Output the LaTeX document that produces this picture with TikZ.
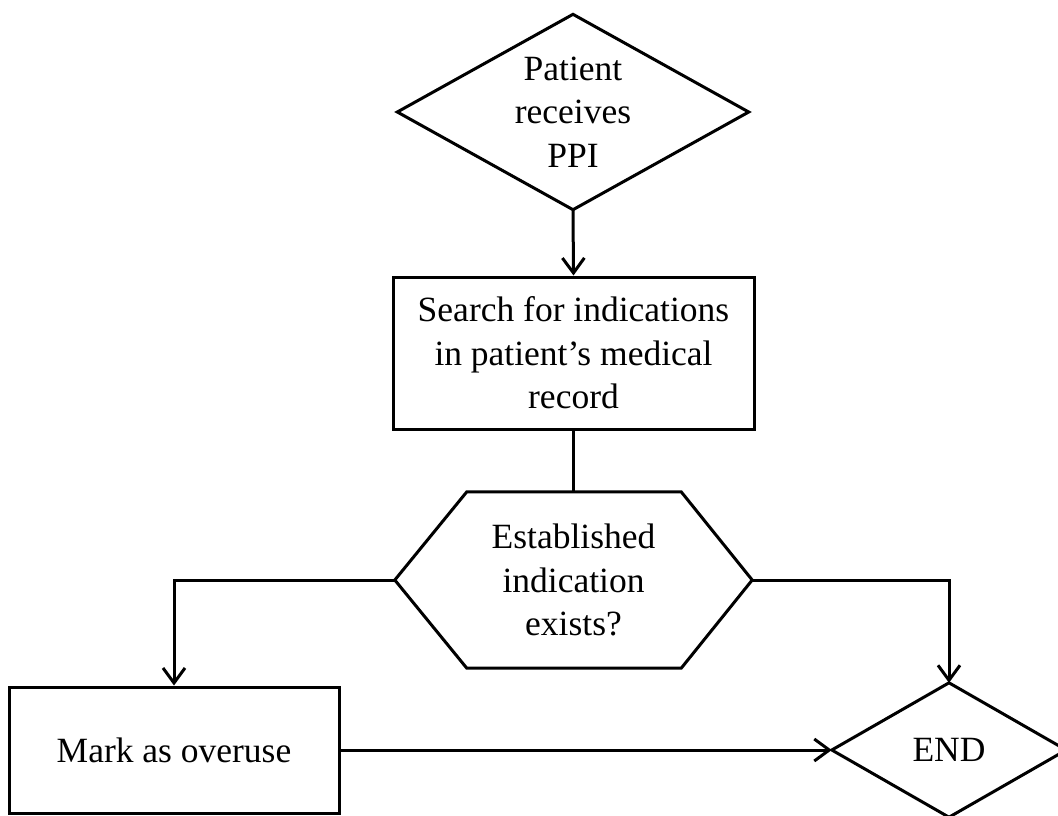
\documentclass[tikz,border=0pt]{standalone}
\usepackage{fontspec}
\setmainfont{Liberation Serif}
\usetikzlibrary{arrows.meta}
\tikzset{
  box/.style={draw=none, inner sep=0pt, align=center, font=\fontsize{35.5}{43.5}\selectfont},
  ln/.style={line width=3pt, line join=miter},
  arr/.style={ln, -{Straight Barb[length=15pt,width=22pt,line width=3pt]}}
}
\begin{document}
\begin{tikzpicture}[x=1pt,y=1pt]
\useasboundingbox (0,0) rectangle (1058,-815);
% nodes
\node[box, minimum width=351pt, minimum height=195pt] (d1) at (573,-112) {Patient\\receives\\PPI};
\node[box, draw, ln, minimum width=361pt, minimum height=152pt] (r1) at (573.5,-353) {Search for indications\\in patient’s medical\\record};
\node[box, minimum width=357pt, minimum height=176pt] (h) at (573.5,-580) {Established\\indication\\exists?};
\node[box, draw, ln, minimum width=330pt, minimum height=126pt] (r2) at (174,-750) {Mark as overuse};
\node[box, minimum width=234pt, minimum height=134pt] (e) at (949,-750) {END};
% outlines
\draw[ln] (d1.north) -- (d1.east) -- (d1.south) -- (d1.west) -- cycle;
\draw[ln] (h.west) -- ([xshift=72pt]h.north west) -- ([xshift=-71pt]h.north east) -- (h.east) -- ([xshift=-71pt]h.south east) -- ([xshift=72pt]h.south west) -- cycle;
\draw[ln] (e.north) -- (e.east) -- (e.south) -- (e.west) -- cycle;
% connectors
\draw[arr] (d1.south) -- (r1.north);
\draw[ln] (r1.south) -- (h.north);
\draw[arr] (h.west) -| (r2.north);
\draw[arr] (h.east) -| (e.north);
\draw[arr] (r2.east) -- (e.west);
\end{tikzpicture}
\end{document}
